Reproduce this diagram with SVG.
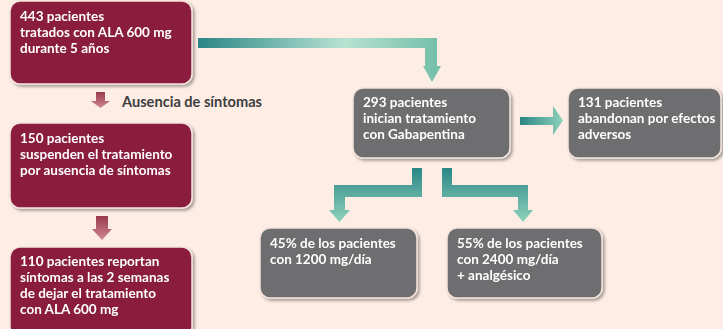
<svg xmlns="http://www.w3.org/2000/svg" width="723" height="329" viewBox="0 0 723 329">
<defs>
<style>
.bx{stroke:#f4e4dc;stroke-width:1.5}
.m{fill:#8a1c3e}
.g{fill:#6e6e70}
.t{font-family:Lato,"Open Sans",sans-serif;font-weight:bold;font-size:13.5px;fill:#ffffff}
.lab{font-family:Lato,"Open Sans",sans-serif;font-weight:bold;font-size:14.6px;fill:#3e3e3e}
</style>
<filter id="sh" x="-10%" y="-10%" width="125%" height="130%">
<feGaussianBlur in="SourceAlpha" stdDeviation="1.5"/>
<feOffset dx="2" dy="2" result="b"/>
<feComponentTransfer><feFuncA type="linear" slope="0.35"/></feComponentTransfer>
<feMerge><feMergeNode/><feMergeNode in="SourceGraphic"/></feMerge>
</filter>
<linearGradient id="tealH" x1="0" y1="0" x2="1" y2="0">
<stop offset="0" stop-color="#2a8686"/>
<stop offset="0.6" stop-color="#b8e2d2"/>
<stop offset="1" stop-color="#72bea8"/>
</linearGradient>
<linearGradient id="tealV" x1="0" y1="0" x2="0" y2="1">
<stop offset="0" stop-color="#2a8686"/>
<stop offset="1" stop-color="#8fd2bb"/>
</linearGradient>
<linearGradient id="tealR" x1="0" y1="0" x2="1" y2="0">
<stop offset="0" stop-color="#2a8686"/>
<stop offset="1" stop-color="#8fd2bb"/>
</linearGradient>
<linearGradient id="rose" x1="0" y1="0" x2="0" y2="1">
<stop offset="0" stop-color="#9a3a4c"/>
<stop offset="1" stop-color="#d08890"/>
</linearGradient>
</defs>
<rect width="723" height="329" fill="#fdede5"/>

<g id="connectors">
<path d="M198,38 H437 V66 H441 L432,82 L423,66 H425 V48 H198 Z" fill="url(#tealH)"/>
<path d="M96,92 H105 V101 H110 L100.5,108 L91,101 H96 Z" fill="url(#rose)"/>
<path d="M96,216 H108 V229 H112 L102,240 L92,229 H96 Z" fill="url(#rose)"/>
<path d="M520,117 H553 V106 L563,120.5 L553,135 V125 H520 Z" fill="url(#tealR)"/>
<path d="M412,168 H422 V197 H345 V210 H350 L339.5,222 L329,210 H334 V185 H412 Z" fill="url(#tealV)"/>
<path d="M442,168 H452 V185 H528 V210 H533 L523,222 L513,210 H518 V197 H442 Z" fill="url(#tealV)"/>
</g>

<g id="n1" filter="url(#sh)">
<rect class="bx m" x="10" y="1" width="182" height="83" rx="10"/>
<text class="t" x="20" y="21">443 pacientes</text>
<text class="t" x="20" y="37">tratados con ALA 600 mg</text>
<text class="t" x="20" y="53">durante 5 años</text>
</g>
<g id="lab1"><text class="lab" x="122" y="107">Ausencia de síntomas</text></g>
<g id="n2" filter="url(#sh)">
<rect class="bx m" x="10" y="123" width="182" height="85" rx="10"/>
<text class="t" x="20" y="143">150 pacientes</text>
<text class="t" x="20" y="159">suspenden el tratamiento</text>
<text class="t" x="20" y="175">por ausencia de síntomas</text>
</g>
<g id="n3" filter="url(#sh)">
<rect class="bx m" x="10" y="247" width="182" height="90" rx="10"/>
<text class="t" x="20" y="266">110 pacientes reportan</text>
<text class="t" x="20" y="282">síntomas a las 2 semanas</text>
<text class="t" x="20" y="298">de dejar el tratamiento</text>
<text class="t" x="20" y="314">con ALA 600 mg</text>
</g>
<g id="n4" filter="url(#sh)">
<rect class="bx g" x="353" y="88" width="157" height="70" rx="10"/>
<text class="t" x="363" y="107">293 pacientes</text>
<text class="t" x="363" y="123">inician tratamiento</text>
<text class="t" x="363" y="139">con Gabapentina</text>
</g>
<g id="n5" filter="url(#sh)">
<rect class="bx g" x="568" y="88" width="153" height="70" rx="10"/>
<text class="t" x="578" y="107">131 pacientes</text>
<text class="t" x="578" y="123">abandonan por efectos</text>
<text class="t" x="578" y="139">adversos</text>
</g>
<g id="n6" filter="url(#sh)">
<rect class="bx g" x="260" y="228" width="157" height="70" rx="10"/>
<text class="t" x="270" y="248">45% de los pacientes</text>
<text class="t" x="270" y="264">con 1200 mg/día</text>
</g>
<g id="n7" filter="url(#sh)">
<rect class="bx g" x="447" y="228" width="155" height="70" rx="10"/>
<text class="t" x="457" y="248">55% de los pacientes</text>
<text class="t" x="457" y="264">con 2400 mg/día</text>
<text class="t" x="457" y="280">+ analgésico</text>
</g>
</svg>
